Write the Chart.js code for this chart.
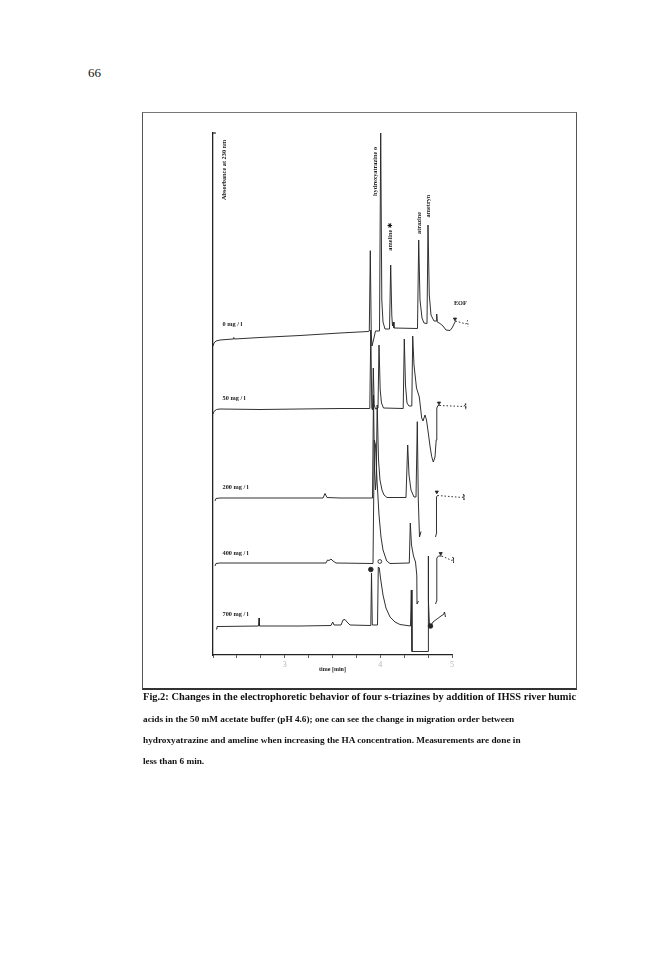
<!DOCTYPE html>
<html><head><meta charset="utf-8">
<script src="https://cdn.jsdelivr.net/npm/chart.js@4.4.1/dist/chart.umd.min.js"></script>
<style>
html,body{margin:0;padding:0;background:#fff;}
#page{position:relative;width:672px;height:960px;overflow:hidden;background:#fff;}
#pnum{position:absolute;left:88px;top:66px;font-family:'Liberation Serif',serif;font-size:13px;color:#111;line-height:14px;}
#box{position:absolute;left:142px;top:112px;width:433px;height:575px;border:1px solid #777;border-bottom:2px solid #333;border-left:1.5px solid #555;border-right:1.5px solid #555;}
#cv{position:absolute;left:0;top:0;}
.cap{position:absolute;left:143px;font-family:'Liberation Serif',serif;font-weight:bold;color:#111;white-space:nowrap;line-height:1;}
</style></head>
<body><div id="page">
<div id="pnum">66</div>
<div id="box"></div>
<canvas id="cv" width="672" height="960"></canvas>
<div class="cap" id="c1">Fig.2: Changes in the electrophoretic behavior of four s-triazines by addition of IHSS river humic</div>
<div class="cap" id="c2">acids in the 50 mM acetate buffer (pH 4.6); one can see the change in migration order between</div>
<div class="cap" id="c3">hydroxyatrazine and ameline when increasing the HA concentration. Measurements are done in</div>
<div class="cap" id="c4">less than 6 min.</div>
</div>
<script>
// ---- data (x: time axis units, y: absorbance, arbitrary units) ----
const tickLabels = ['', '', '', '3', '', '', '', '4', '', '', '5'];
const concLabels = ['0 mg / l', '50 mg / l', '200 mg / l', '400 mg / l', '700 mg / l'];
const concLabelY = [331, 256.5, 168, 101.3, 41];
const concLabelX = 0.4;
const peakNames = ['hydroxyatrazine o', 'ameline \u2731', 'atrazine', 'ametryn'];
const peakNameX = [6.778, 7.435, 8.619, 8.996];
const peakNameY = [459, 404.3, 421, 437.6];

const t0x = [0,0.042,0.126,0.293,0.837,0.866,0.900,1.967,3.640,5.314,6.485,6.540,6.582,6.623,6.653,6.715,6.799,6.967,7.017,7.063,7.113,7.197,7.385,7.435,7.481,7.510,7.540,7.573,8.556,8.607,8.661,8.745,8.828,8.954,8.996,9.050,9.121,9.247,9.339,9.360,9.385,9.498,9.623,9.749,9.916,10.0,10.084,10.146,10.586,10.649,10.678];
const t0y = [309,312,314,315,316,317.5,316,317.5,319.5,322,323.5,324,404.3,320,309,315,324,324,522,355,333,326,326,390,340,329,333,327,326.5,415,355,337,332,331.5,430,360,340,334,334,341,333,331.5,329,325,324.5,327,331,334,331,334.5,328];

const t50x = [0,0.042,0.146,0.293,1.967,3.640,5.314,6.561,6.603,6.644,6.674,6.707,6.745,6.799,6.904,6.946,6.996,7.050,7.134,7.958,8.004,8.054,8.117,8.201,8.318,8.356,8.410,8.515,8.632,8.732,8.787,8.870,8.933,9.008,9.079,9.151,9.218,9.289,9.339,9.364,9.414,9.477,10.502,10.556,10.577];
const t50y = [241,243.5,245.5,246,245.5,246,246.5,246.5,325,247,245,287,250,246,247,310,265,252,247,246.5,316,270,252,249,249,319,290,267,258,237,234,240,235,222,209,198.3,193,198,215,247,249.5,249.5,248.5,251.5,245.5];

const t200x = [0.084,0.126,0.293,2.803,4.603,4.686,4.770,5.314,6.674,6.715,6.757,6.799,6.828,6.870,6.925,6.987,7.071,7.155,7.280,8.075,8.146,8.201,8.285,8.410,8.494,8.548,8.590,8.640,8.703,8.800,9.310,9.364,9.351,9.393,10.439,10.481,10.502];
const t200y = [154,156.5,157,157,157,161.5,157.5,157,157,260,185,165,175,250,195,175,165,160,157.5,157.5,210,180,165,158,158,233.3,155,118,123.5,null,118,123,158,159.5,157.5,161,155];

const t400x = [0.084,0.126,0.293,3.640,4.728,4.791,4.854,4.937,5.021,5.146,6.695,6.749,6.799,6.862,6.946,7.029,7.113,7.268,7.406,8.213,8.255,8.305,8.389,8.473,8.527,8.536,8.598,8.900,9.310,9.372,9.364,9.435,9.569,10.0,10.042,10.063];
const t400y = [89,91.5,92,92,92,95,94.5,96,94,92,91.5,215,210,175,140,118,105,94,91.5,92,132,110,99,93,80,51,54,null,51,55,97,99,99,94.5,98,92];

const t700x = [0.126,0.167,0.293,1.904,1.925,1.946,3.640,4.937,5.008,5.063,5.356,5.439,5.523,5.607,5.732,6.603,6.632,6.665,6.883,6.916,6.958,7.008,7.113,7.238,7.406,7.615,7.824,8.264,8.297,8.326,8.996,8.996,9.029,9.059,9.100,9.205,9.372,9.540,9.644,9.686,9.728];
const t700y = [26,28.5,28.5,29,37,29,29,29.5,33,30,30,35,35.5,33,30,29.5,82,30,30,88,87,77,60,47,38,33,30.5,29,65,3.5,3.5,99,55,28,29,33,36,39,40.5,43,38];

const dashFrom = [10.14, 9.47, 9.39, 9.56, 99];

const markerX = [10.126, 9.456, 9.364, 9.527, 6.603, 9.100, 6.980];
const markerY = [336, 252, 163, 101.5, 85.5, 29, 93.5];
const markerKind = ['eof','eof','eof','eof','star','star','ring'];

// ---- build ----
const traceX = [t0x, t50x, t200x, t400x, t700x];
const traceY = [t0y, t50y, t200y, t400y, t700y];
const ink = '#262626';
const datasets = traceX.map((xs, i) => ({
  label: concLabels[i],
  data: xs.map((v, k) => ({x: v, y: traceY[i][k]})),
  borderColor: ink,
  borderWidth: 0.95,
  pointRadius: 0,
  tension: 0,
  spanGaps: false,
  clip: false,
  segment: {
    borderDash: ctx => (ctx.p0.parsed.x >= dashFrom[i] - 1e-6 ? [1.5, 2] : undefined)
  }
}));
datasets.push({
  label: 'markers',
  data: markerX.map((v, k) => ({x: v, y: markerY[k]})),
  showLine: false,
  clip: false,
  pointStyle: markerKind.map(k => k === 'eof' ? 'triangle' : 'circle'),
  rotation: markerKind.map(k => k === 'eof' ? 180 : 0),
  pointRadius: markerKind.map(k => k === 'eof' ? 1.8 : (k === 'star' ? 2.3 : 1.9)),
  backgroundColor: markerKind.map(k => k === 'ring' ? '#fff' : ink),
  borderColor: ink,
  borderWidth: 0.9
});

const annot = {
  id: 'annot',
  afterDraw(chart) {
    const {ctx, scales: {x, y}} = chart;
    ctx.save();
    ctx.fillStyle = '#1a1a1a';
    ctx.strokeStyle = '#222';
    ctx.lineWidth = 1.2;
    // hook at top of y axis
    ctx.beginPath();
    ctx.moveTo(x.getPixelForValue(0), y.getPixelForValue(y.max));
    ctx.lineTo(x.getPixelForValue(0.12), y.getPixelForValue(y.max));
    ctx.stroke();
    ctx.font = 'bold 6.3px "Liberation Serif", serif';
    ctx.textAlign = 'left';
    ctx.textBaseline = 'middle';
    concLabels.forEach((t, i) => ctx.fillText(t, x.getPixelForValue(concLabelX), y.getPixelForValue(concLabelY[i])));
    ctx.fillText('EOF', x.getPixelForValue(10.08), y.getPixelForValue(352));
    const rot = (t, xv, yv) => {
      ctx.save();
      ctx.translate(x.getPixelForValue(xv), y.getPixelForValue(yv));
      ctx.rotate(-Math.PI / 2);
      ctx.fillText(t, 0, 0);
      ctx.restore();
    };
    rot('Absorbance at 230 nm', 0.46, 455);
    peakNames.forEach((t, i) => rot(t, peakNameX[i], peakNameY[i]));
    ctx.restore();
  }
};

new Chart(document.getElementById('cv'), {
  type: 'line',
  data: {datasets},
  options: {
    responsive: false,
    animation: false,
    events: [],
    layout: {padding: {left: 213, right: 220, top: 133, bottom: 287}},
    plugins: {legend: {display: false}, tooltip: {enabled: false}},
    scales: {
      x: {
        type: 'linear',
        // range fixed after data limits so that traces running past the axis end are still drawn
        afterDataLimits: s => { s.min = 0; s.max = 10; },
        afterFit: s => { s.height = 18; },
        border: {color: '#222', width: 1.2},
        grid: {drawOnChartArea: false, tickLength: 3, color: '#333', lineWidth: 0.8},
        ticks: {stepSize: 1, autoSkip: false, maxRotation: 0, padding: 2,
          color: '#b5b5b5', font: {family: 'Liberation Serif', size: 8},
          callback: v => tickLabels[Math.round(v)] ?? ''},
        title: {display: true, text: 'time [min]', color: '#222', padding: {top: 0, bottom: 0},
          font: {family: 'Liberation Serif', size: 6, weight: 'bold'}}
      },
      y: {
        type: 'linear', min: 0, max: 522,
        afterFit: s => { s.width = 0; },
        border: {color: '#222', width: 1.3},
        grid: {drawOnChartArea: false, drawTicks: false},
        ticks: {display: false}
      }
    }
  },
  plugins: [annot]
});

// caption lines: line 1 fitted to its width, lines 2-4 share one size fitted to line 3
const fit = (id, w) => {
  const el = document.getElementById(id);
  el.style.fontSize = '10px';
  return 10 * w / el.getBoundingClientRect().width;
};
const s1 = fit('c1', 433);
const s2 = fit('c3', 378);
[['c1', 692, s1], ['c2', 715, s2], ['c3', 736, s2], ['c4', 757, s2]].forEach(([id, top, s]) => {
  const el = document.getElementById(id);
  el.style.top = top + 'px';
  el.style.fontSize = s.toFixed(2) + 'px';
});
</script>
</body></html>
